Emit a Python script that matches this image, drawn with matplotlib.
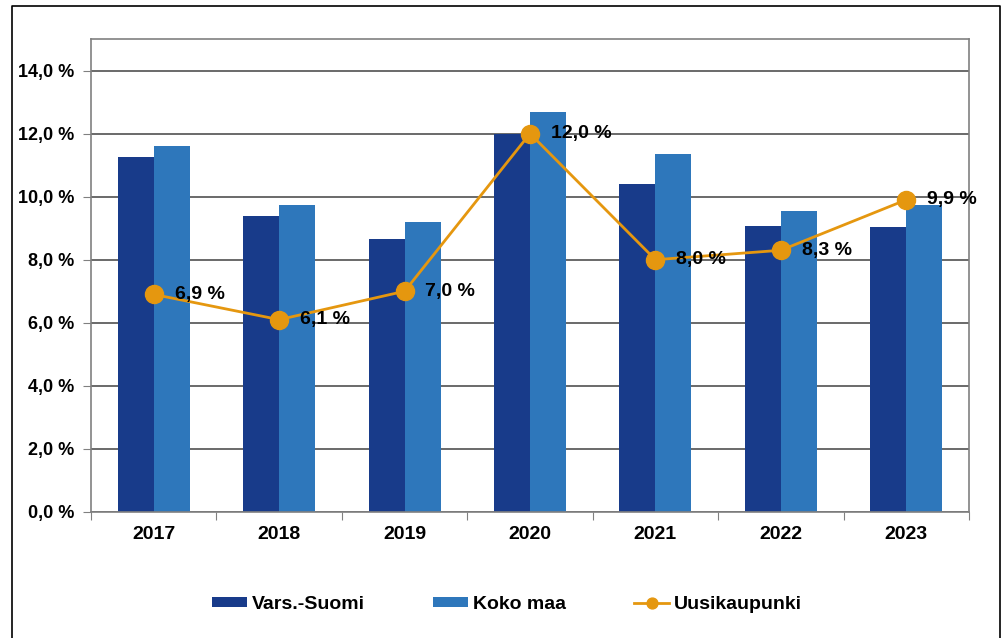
import numpy as np
import matplotlib
matplotlib.use('Agg')
from matplotlib import pyplot as plt
from matplotlib.lines import Line2D
from matplotlib.ticker import FuncFormatter

years = ['2017', '2018', '2019', '2020', '2021', '2022', '2023']
vars_suomi = [11.25, 9.4, 8.65, 12.0, 10.4, 9.08, 9.03]
koko_maa = [11.6, 9.75, 9.2, 12.7, 11.35, 9.55, 9.75]
uusikaupunki = [6.9, 6.1, 7.0, 12.0, 8.0, 8.3, 9.9]

plt.rcParams['font.family'] = ['Liberation Sans', 'DejaVu Sans']
plt.rcParams['font.weight'] = 'bold'

fig = plt.figure(figsize=(10.06, 6.38), dpi=100)
ax = fig.add_axes([0.0905, 0.1975, 0.8727, 0.7414])

x = np.arange(len(years))
w = 0.287
b1 = ax.bar(x - w / 2, vars_suomi, w, color='#183b8a', label='Vars.-Suomi', zorder=2)
b2 = ax.bar(x + w / 2, koko_maa, w, color='#2e77bb', label='Koko maa', zorder=2)
l1, = ax.plot(x, uusikaupunki, color='#e5970f', lw=2, marker='o', ms=13,
              label='Uusikaupunki', zorder=3)
for xi, v in zip(x, uusikaupunki):
    ax.annotate(f'{v:.1f} %'.replace('.', ','), (xi, v), xytext=(15, 0),
                textcoords='offset points', va='center', ha='left',
                fontsize=14, fontweight='bold', zorder=4)

ax.set_xlim(-0.5, len(years) - 0.5)
ax.set_ylim(0, 15)
ax.set_yticks(np.arange(0, 15, 2))
ax.yaxis.set_major_formatter(FuncFormatter(lambda v, p: f'{v:.1f} %'.replace('.', ',')))
ax.grid(axis='y', color='#505050', lw=1.2, zorder=1)

ax.set_xticks(np.arange(-0.5, len(years), 1))
ax.set_xticklabels([])
ax.set_xticks(x, minor=True)
ax.set_xticklabels(years, minor=True)
ax.tick_params(axis='x', which='minor', length=0, pad=10, labelsize=14)
ax.tick_params(axis='x', which='major', length=6, color='#808080')
ax.tick_params(axis='y', length=6, color='#808080', labelsize=13, pad=6)
for s in ax.spines.values():
    s.set_color('#808080')
    s.set_linewidth(1.2)

fig.legend([b1, b2, l1], ['Vars.-Suomi', 'Koko maa', 'Uusikaupunki'],
           loc='center', bbox_to_anchor=(0.504, 0.053), ncol=3, frameon=False,
           fontsize=14, handlelength=1.8, handletextpad=0.25, columnspacing=3.5,
           handleheight=0.45, markerscale=0.6)

fig.add_artist(Line2D([0.0115, 0.0115, 0.994, 0.994], [0, 0.9906, 0.9906, 0],
                      transform=fig.transFigure, color='black', lw=1.2))

plt.savefig('out.png', dpi=100)
